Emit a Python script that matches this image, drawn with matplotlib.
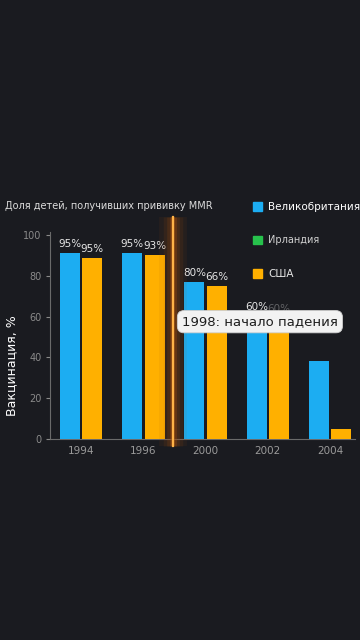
import numpy as np
import matplotlib.pyplot as plt
from matplotlib.patches import Patch

# data
years = ['1994', '1996', '2000', '2002', '2004']
uk = [91, 91, 77, 60, 38]
usa = [88.5, 90, 75, 59, 5]
uk_labels = ['95%', '95%', '80%', '60%', '']
usa_labels = ['95%', '93%', '66%', '60%', '']
yticks = [0, 20, 40, 60, 80, 100]

bg = '#1a1b20'
blue = '#1cadf2'
orange = '#ffb000'
green = '#27c24c'

plt.rcParams['font.family'] = ['DejaVu Sans']

fig = plt.figure(figsize=(3.6, 6.4), dpi=100)
fig.patch.set_facecolor(bg)
ax = fig.add_axes([50 / 360, 201 / 640, 305 / 360, 204 / 640])
ax.set_facecolor(bg)

x = np.arange(len(years))
w = 0.32
b1 = ax.bar(x - 0.18, uk, w, color=blue, zorder=3)
b2 = ax.bar(x + 0.18, usa, w, color=orange, zorder=3)

t1 = ax.bar_label(b1, labels=uk_labels, padding=3, color='#e6e6e6', fontsize=7.5)
t2 = ax.bar_label(b2, labels=usa_labels, padding=3, color='#e6e6e6', fontsize=7.5)
t2[3].set_alpha(0.35)

ax.set_xlim(-0.5, 4.4)
ax.set_ylim(0, 100)
ax.set_xticks(x)
ax.set_xticklabels(years)
ax.set_yticks(yticks)
ax.tick_params(axis='x', length=0, colors='#9a9a9a', labelsize=7.5, pad=5)
ax.tick_params(axis='y', length=3, colors='#8a8a8a', labelsize=7, pad=3)
for s in ['top', 'right']:
    ax.spines[s].set_visible(False)
for s in ['left', 'bottom']:
    ax.spines[s].set_color('#6a6a6a')
    ax.spines[s].set_linewidth(0.8)
ax.spines['left'].set_bounds(0, 101.5)

ax.set_ylabel('Вакцинация, %', color='white', fontsize=9)
ax.yaxis.set_label_coords(-0.105, 0.36)

# glowing divider between 1996 and 2000
xl = 1.475
for lw, a in [(20, 0.08), (14, 0.12), (9, 0.18), (5, 0.3), (3, 0.4)]:
    ax.plot([xl, xl], [-3.4, 108.7], color='#a8500c', lw=lw, alpha=a,
            solid_capstyle='butt', clip_on=False, zorder=4)
ax.plot([xl, xl], [-3.4, 108.7], color='#ffb347', lw=1.6,
        clip_on=False, zorder=5)

ax.text(1.62, 57.5, '1998: начало падения', fontsize=9.5, color='#1e1e1e',
        va='center', ha='left', zorder=6,
        bbox=dict(boxstyle='round,pad=0.35,rounding_size=0.5',
                  fc='#f2f2f2', ec='#cfcfcf', lw=0.6))

fig.text(5 / 360, 1 - 206 / 640, 'Доля детей, получивших прививку MMR',
         color='#dcdcdc', fontsize=7, va='center', ha='left')

handles = [Patch(color=blue), Patch(color=green), Patch(color=orange)]
leg = fig.legend(handles, ['Великобритания', 'Ирландия', 'США'],
                 loc='upper left', bbox_to_anchor=(253 / 360, 1 - 202 / 640),
                 frameon=False, handlelength=0.9, handleheight=0.9,
                 handletextpad=0.55, labelspacing=2.25, fontsize=7.5,
                 borderaxespad=0, borderpad=0)
texts = leg.get_texts()
texts[0].set_color('white')
texts[1].set_color('#cfcfcf')
texts[1].set_fontsize(7)
texts[2].set_color('#e6e6e6')

fig.savefig('out.png', dpi=100, facecolor=bg)
